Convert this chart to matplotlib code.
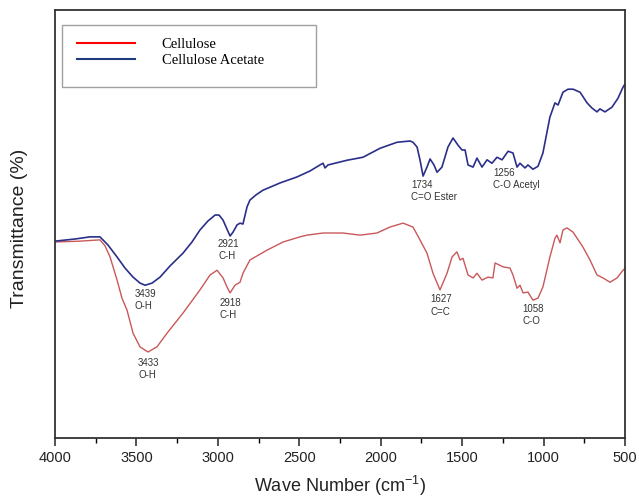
import matplotlib
matplotlib.use("Agg")
import matplotlib.pyplot as plt
from matplotlib.lines import Line2D
from matplotlib.patches import Rectangle
from matplotlib.ticker import MultipleLocator

plt.rcParams["font.family"] = ["Liberation Sans", "DejaVu Sans"]
plt.rcParams["mathtext.fontset"] = "custom"
plt.rcParams["mathtext.rm"] = "Liberation Sans"

# --- data (wave number, transmittance %) ---
acetate_wn = [4000, 3877, 3785, 3724, 3675, 3619, 3570, 3521, 3478, 3447, 3404, 3355,
              3294, 3214, 3159, 3110, 3061, 3017, 2993, 2968, 2944, 2925, 2907, 2882,
              2864, 2846, 2821, 2803, 2766, 2723, 2618, 2514, 2434, 2373, 2354, 2342,
              2324, 2207, 2109, 2004, 1900, 1820, 1802, 1777, 1759, 1740, 1716, 1697,
              1673, 1654, 1624, 1587, 1556, 1525, 1501, 1482, 1464, 1433, 1409, 1378,
              1347, 1317, 1286, 1255, 1218, 1188, 1163, 1145, 1114, 1096, 1065, 1034,
              1004, 979, 961, 930, 911, 881, 850, 819, 776, 733, 703, 672, 654, 623,
              580, 543, 512, 500]
acetate_t = [46.0, 46.5, 47.0, 47.0, 45.1, 42.3, 39.7, 37.6, 36.2, 35.7, 36.2, 37.6,
             40.2, 43.2, 45.8, 48.6, 50.7, 52.1, 52.1, 50.9, 48.8, 47.2, 48.1, 49.8,
             50.2, 50.0, 54.0, 55.6, 56.8, 57.9, 59.6, 61.0, 62.4, 63.8, 64.2, 63.1,
             63.8, 64.9, 65.6, 67.7, 69.1, 69.4, 69.1, 68.0, 65.0, 61.2, 63.3, 65.2,
             63.8, 62.1, 63.3, 68.0, 70.1, 68.4, 67.3, 67.3, 63.8, 63.3, 65.4, 63.3,
             65.0, 64.2, 65.6, 65.0, 67.0, 66.6, 63.3, 64.2, 63.1, 63.8, 62.8, 63.5,
             66.6, 71.5, 75.0, 78.3, 77.8, 80.8, 81.5, 81.5, 80.8, 78.3, 77.1, 76.2,
             76.9, 76.2, 77.3, 79.4, 82.0, 82.7]

cellulose_wn = [4000, 3846, 3724, 3693, 3662, 3619, 3589, 3558, 3521, 3478, 3429, 3374,
                3312, 3214, 3110, 3048, 3005, 2968, 2944, 2925, 2895, 2864, 2846, 2803,
                2698, 2600, 2496, 2453, 2354, 2232, 2127, 2023, 1943, 1863, 1802, 1759,
                1716, 1679, 1636, 1593, 1562, 1532, 1513, 1495, 1464, 1433, 1409, 1378,
                1341, 1311, 1298, 1249, 1206, 1188, 1163, 1145, 1126, 1096, 1065, 1034,
                1004, 961, 930, 918, 899, 881, 856, 819, 758, 715, 672, 635, 592, 549,
                512, 500]
cellulose_t = [45.8, 46.0, 46.3, 44.9, 42.3, 36.9, 32.7, 29.9, 24.5, 21.3, 20.1, 21.3,
               24.5, 29.2, 34.6, 38.1, 39.2, 37.4, 35.3, 33.9, 35.7, 36.4, 38.5, 41.6,
               43.9, 45.8, 47.0, 47.4, 47.9, 47.9, 47.4, 47.9, 49.3, 50.2, 49.3, 46.3,
               43.2, 38.5, 34.6, 38.5, 42.3, 43.5, 41.6, 42.0, 38.1, 37.4, 38.5, 36.9,
               37.6, 37.4, 40.9, 40.0, 39.7, 38.1, 35.0, 35.7, 33.9, 34.1, 32.2, 32.7,
               35.3, 42.3, 46.7, 47.4, 45.6, 48.6, 49.1, 48.1, 44.6, 41.6, 38.1, 37.4,
               36.4, 37.4, 39.2, 39.7]

peak_labels = ["3439\nO-H", "3433\nO-H", "2921\nC-H", "2918\nC-H",
               "1734\nC=O Ester", "1256\nC-O Acetyl", "1627\nC=C", "1058\nC-O"]
peak_xy = [(3509, 34.8), (3490, 18.7), (2999, 46.5), (2987, 32.7),
           (1814, 60.3), (1311, 63.1), (1697, 33.6), (1132, 31.3)]

fig = plt.figure(figsize=(6.39, 5.01), dpi=100)
ax = fig.add_axes([0.0861, 0.1257, 0.8920, 0.8543])

ax.plot(cellulose_wn, cellulose_t, color="#c9585a", lw=1.0)
ax.plot(acetate_wn, acetate_t, color="#2b2f8a", lw=1.2)

for txt, (x, y) in zip(peak_labels, peak_xy):
    ax.text(x, y, txt, fontsize=7, color="#333333", ha="left", va="top", linespacing=1.3)

ax.set_xlim(4000, 500)
ax.set_ylim(0, 100)
ax.xaxis.set_major_locator(MultipleLocator(500))
ax.xaxis.set_minor_locator(MultipleLocator(250))
ax.tick_params(axis="x", which="major", direction="out", length=6, width=1.1,
               labelsize=10.5, colors="#222222")
ax.tick_params(axis="x", which="minor", direction="out", length=3.5, width=1.0)
ax.set_yticks([])
for s in ax.spines.values():
    s.set_color("#333333")
    s.set_linewidth(1.3)

ax.set_xlabel("Wave Number (cm$^{\\mathregular{-1}}$)", fontsize=13, color="#222222")
ax.xaxis.set_label_coords(0.5, -0.083)
ax.set_ylabel("Transmittance (%)", fontsize=14, color="#222222")
ax.yaxis.set_label_coords(-0.047, 0.49)

# legend box
ax.add_patch(Rectangle((0.0123, 0.820), 0.4456, 0.1449, transform=ax.transAxes,
                       facecolor="white", edgecolor="#a0a0a0", lw=1.0, zorder=3))
handles = [Line2D([], [], color="#ff0000", lw=1.5),
           Line2D([], [], color="#1f3d7a", lw=1.5)]
ax.legend(handles, ["Cellulose", "Cellulose Acetate"], loc="upper left",
          bbox_to_anchor=(0.0386, 0.935), frameon=False, borderpad=0, borderaxespad=0,
          handlelength=4.0, handletextpad=1.8, labelspacing=0.2,
          prop={"family": "Liberation Serif", "size": 10.5})

fig.savefig("out.png", dpi=100)
